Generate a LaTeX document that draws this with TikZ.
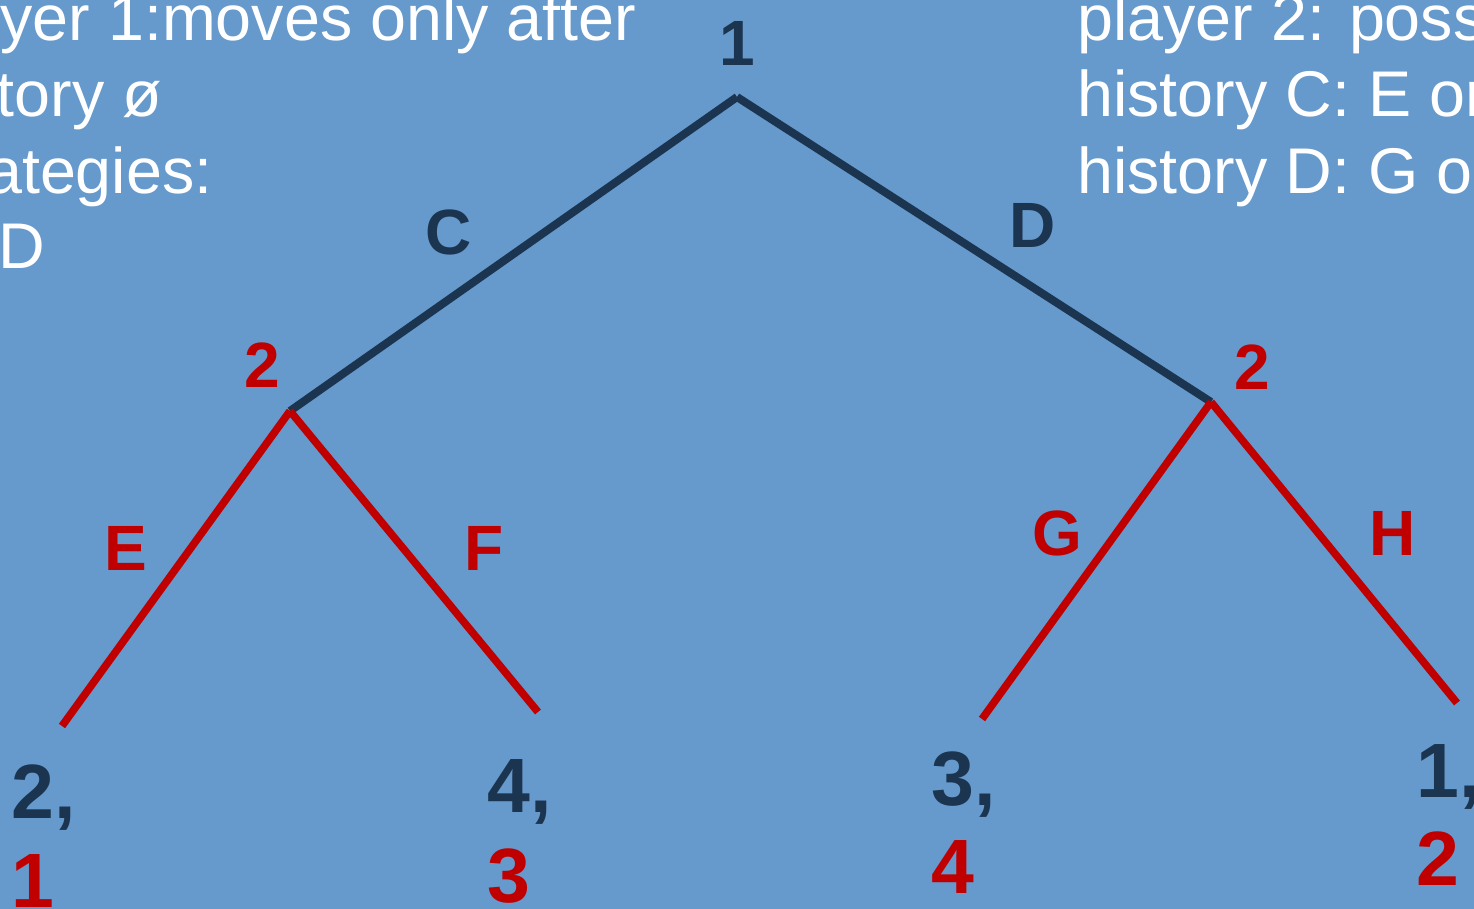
\documentclass[tikz,border=0pt]{standalone}
\usepackage{fontspec}
\setmainfont{Liberation Sans}
\usetikzlibrary{positioning}
\definecolor{slideblue}{HTML}{6699CC}
\definecolor{navy}{HTML}{1B3550}
\definecolor{darkred}{HTML}{C00000}

\begin{document}
\begin{tikzpicture}[x=0.5pt,y=-0.5pt,
  edgeone/.style={navy,line width=4pt},
  edgetwo/.style={darkred,line width=3.8pt},
  lbl/.style={font=\fontsize{32}{38}\selectfont\bfseries,anchor=base,inner sep=0pt},
  pay/.style={font=\fontsize{38.5}{44}\selectfont\bfseries,anchor=base west,inner sep=0pt},
  info/.style={font=\fontsize{32.3}{38.25}\selectfont,white,align=left,anchor=north west,inner sep=0pt}]
  \fill[slideblue] (0,0) rectangle (1474,909);
  \useasboundingbox (0,0) rectangle (1474,909);
  \clip (0,0) rectangle (1474,909);

  % text on the slide
  \node[info] (info1) at (-86,-7) {player 1:moves only after\\history ø\\strategies:};
  \node[info,anchor=base east] (info1b) at (46,269) {C or D};
  \node[info] (info2) at (1077,-7) {player 2: possible strategies\\history C: E or F\\history D: G or H};

  % game tree
  \coordinate (root) at (737,97);
  \coordinate (v1) at (290,411);
  \coordinate (v2) at (1211,402);
  \coordinate (z1) at (62,726);
  \coordinate (z2) at (538,712);
  \coordinate (z3) at (982,719);
  \coordinate (z4) at (1457,703);

  \draw[edgeone] (root) -- (v1);
  \draw[edgeone] (root) -- (v2);
  \draw[edgetwo] (v1) -- (z1);
  \draw[edgetwo] (v1) -- (z2);
  \draw[edgetwo] (v2) -- (z3);
  \draw[edgetwo] (v2) -- (z4);

  \node[lbl,navy] (pl1) at (737,66) {1};
  \node[lbl,darkred] (pl2a) at (262,388) {2};
  \node[lbl,darkred] (pl2b) at (1252,390) {2};
  \node[lbl,navy] (aC) at (449,255) {C};
  \node[lbl,navy] (aD) at (1033,248) {D};
  \node[lbl,darkred] (aE) at (126,570) {E};
  \node[lbl,darkred] (aF) at (484,570) {F};
  \node[lbl,darkred] (aG) at (1057,555) {G};
  \node[lbl,darkred] (aH) at (1393,555) {H};

  % payoffs
  \node[pay,navy] (u1) at (11,818) {2,};
  \node[pay,darkred] (w1) at (11,907) {1};
  \node[pay,navy] (u2) at (487,812) {4,};
  \node[pay,darkred] (w2) at (487,902) {3};
  \node[pay,navy] (u3) at (931,805) {3,};
  \node[pay,darkred] (w3) at (931,893) {4};
  \node[pay,navy] (u4) at (1416,797) {1,};
  \node[pay,darkred] (w4) at (1416,885) {2};
\end{tikzpicture}
\end{document}
